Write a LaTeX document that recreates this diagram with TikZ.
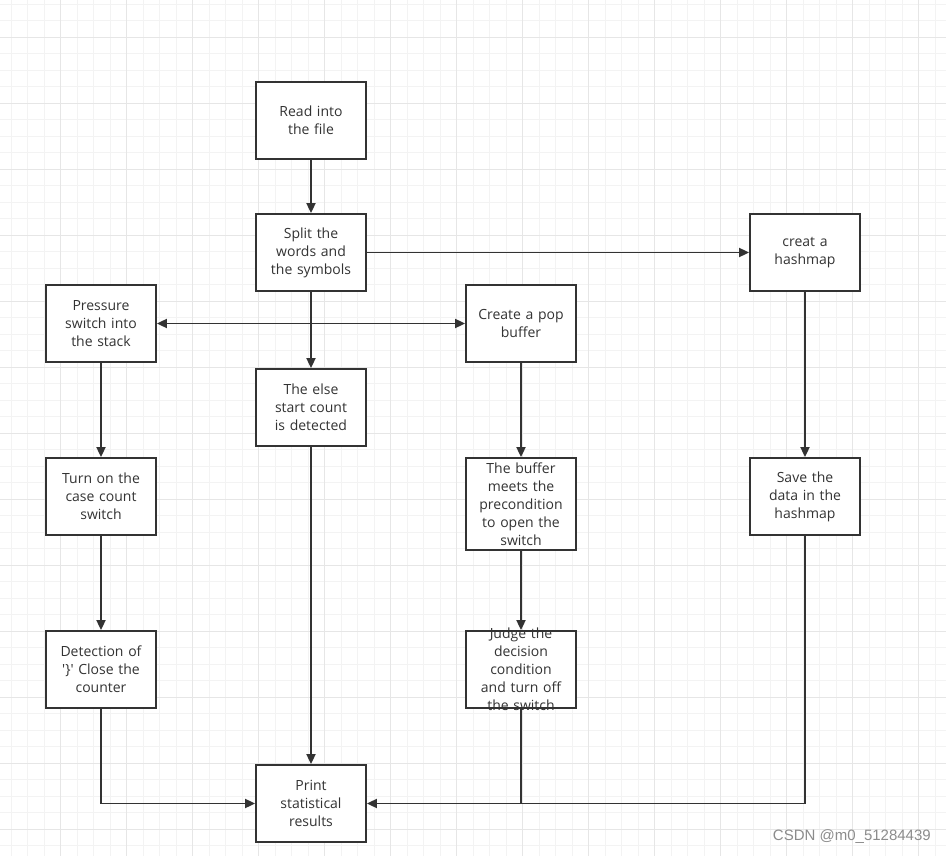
\documentclass[tikz,border=0pt]{standalone}
\usepackage{fontspec}
\setmainfont{Open Sans}[Ligatures=TeXOff]
\newfontfamily\wmfont{Liberation Sans}
\usetikzlibrary{arrows.meta}
\definecolor{ink}{HTML}{333333}
\definecolor{gminor}{HTML}{F3F3F3}
\definecolor{gmajor}{HTML}{E6E6E6}
\tikzset{
  box/.style={draw=ink, line width=1.8pt, fill=white, minimum width=110pt, minimum height=77pt,
    text width=106pt, align=center, text=ink, inner sep=0pt,
    font=\fontsize{14}{18}\selectfont},
  label text/.style={text width=106pt, align=center, text=ink, inner sep=0pt,
    font=\fontsize{14}{18}\selectfont},
  arr/.style={draw=ink, line width=1.8pt, -{Triangle[length=10pt,width=9pt]}},
  ln/.style={draw=ink, line width=1.8pt},
}
\begin{document}
\begin{tikzpicture}[x=1pt,y=-1pt]
\useasboundingbox (0,0) rectangle (946,856);
\fill[white] (0,0) rectangle (946,856);
% grid
\foreach \i in {0,...,57} {
  \draw[gminor, line width=0.8pt] ({11.2+16.5*\i},0) -- ({11.2+16.5*\i},856);
}
\foreach \i in {0,...,52} {
  \draw[gminor, line width=0.8pt] (0,{4+16.5*\i}) -- (946,{4+16.5*\i});
}
\foreach \i in {0,...,14} {
  \draw[gmajor, line width=0.8pt] ({60.7+66*\i},0) -- ({60.7+66*\i},856);
}
\foreach \i in {0,...,13} {
  \draw[gmajor, line width=0.8pt] (0,{37+66*\i}) -- (946,{37+66*\i});
}
% nodes
\node[box] (read) at (311,120.5) {Read into\\the file};
\node[box] (split) at (311,252.5) {Split the\\words and\\the symbols};
\node[box] (hash) at (805,252.5) {creat a\\hashmap};
\node[box] (press) at (101,323.5) {Pressure\\switch into\\the stack};
\node[box] (pop) at (521,323.5) {Create a pop\\buffer};
\node[box] (else) at (311,407.5) {The else\\start count\\is detected};
\node[box] (turn) at (101,496.5) {Turn on the\\case count\\switch};
\node[box, minimum height=92pt] (meets) at (521,504) {The buffer\\meets the\\precondition\\to open the\\switch};
\node[box] (save) at (805,496.5) {Save the\\data in the\\hashmap};
\node[box] (det) at (101,669.5) {Detection of\\'\}' Close the\\counter};
\node[box] (judge) at (521,669.5) {};
\node[label text] (judgetext) at (judge.center) {Judge the\\decision\\condition\\and turn off\\the switch};
\node[box] (print) at (311,803.5) {Print\\statistical\\results};
% connectors
\coordinate (br) at (311,323.5);
\draw[arr] (read) -- (split);
\draw[arr] (split) -- (hash);
\draw[arr] (split) -- (else);
\draw[arr] (br) -- (press.east);
\draw[arr] (br) -- (pop.west);
\draw[arr] (press) -- (turn);
\draw[arr] (turn) -- (det);
\draw[arr] (pop) -- (meets);
\draw[arr] (meets) -- (judge);
\draw[arr] (hash) -- (save);
\draw[arr] (else) -- (print);
\draw[arr] (det.south) |- (print.west);
\draw[arr] (save.south) |- (print.east);
\draw[ln] (judge.south) -- (judge.south |- print.east);
% watermark
\node[anchor=east, text=black!45, font=\wmfont\fontsize{15}{18}\selectfont, inner sep=0pt] (wm) at (931,837) {CSDN @m0\_51284439};
\end{tikzpicture}
\end{document}
